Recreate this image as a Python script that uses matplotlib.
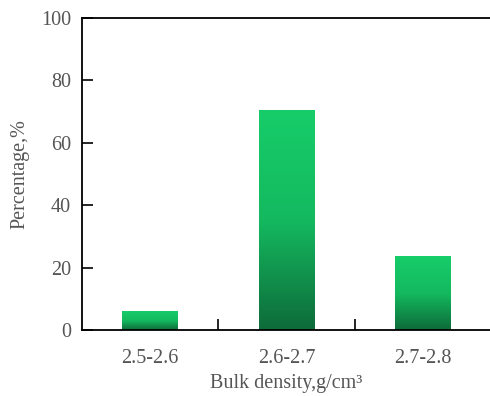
import matplotlib.pyplot as plt
import numpy as np
from matplotlib.colors import LinearSegmentedColormap

categories = ["2.5-2.6", "2.6-2.7", "2.7-2.8"]
percentages = [5.8, 70.5, 23.4]

plt.rcParams['font.family'] = ['Liberation Serif', 'DejaVu Serif']

fig = plt.figure(figsize=(4.9, 3.96), dpi=100)
ax = fig.add_axes([82 / 490, 66 / 396, 409 / 490, 312 / 396])

# vertical gradient: dark at the bottom, bright green at the top
cmap = LinearSegmentedColormap.from_list("bar", ["#0e6b3a", "#14b95f", "#17cd6a"])
grad = np.linspace(0, 1, 256).reshape(-1, 1)
width = 0.41
for i, val in enumerate(percentages):
    ax.imshow(grad, cmap=cmap, origin='lower', aspect='auto',
              extent=[i - width / 2, i + width / 2, 0, val], zorder=2)

ax.set_xlim(-0.5, 2.5)
ax.set_ylim(0, 100)
ax.set_yticks([0, 20, 40, 60, 80, 100])
ax.set_xticks(range(len(categories)))
ax.set_xticklabels(categories)
ax.set_xticks([0.5, 1.5], minor=True)
ax.tick_params(axis='x', which='major', length=0, pad=14, labelsize=14.5, labelcolor='#555555')
ax.tick_params(axis='x', which='minor', direction='in', length=8, width=1.2)
ax.tick_params(axis='y', direction='in', length=8, width=1.2, pad=8, labelsize=14.5, labelcolor='#555555')

for s in ['left', 'bottom', 'top']:
    ax.spines[s].set_linewidth(1.3)
ax.spines['right'].set_visible(False)

ax.set_ylabel("Percentage,%", fontsize=14.5, color='#555555', labelpad=8)
ax.set_xlabel("Bulk density,g/cm³", fontsize=14.5, color='#555555', labelpad=4)

fig.savefig("out.png", dpi=100)
